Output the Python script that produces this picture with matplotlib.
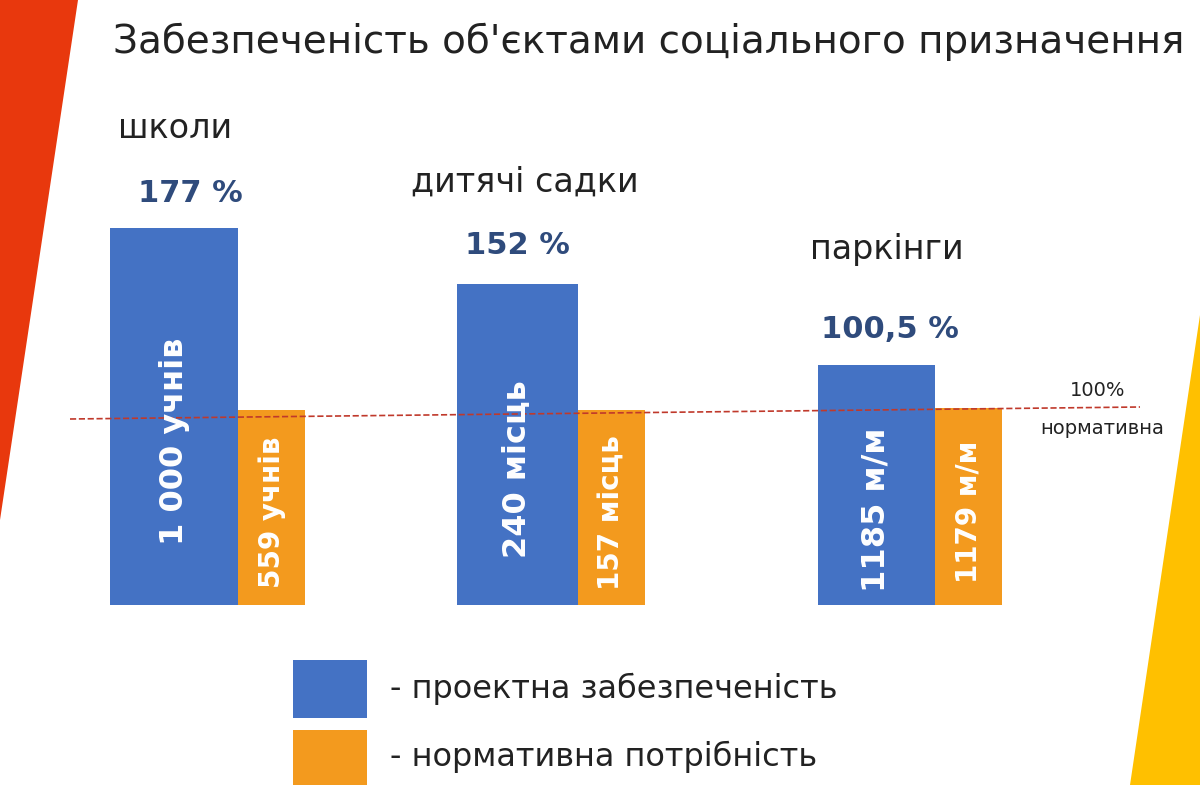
import matplotlib
matplotlib.use("Agg")
import matplotlib.pyplot as plt
from matplotlib.patches import Polygon, Rectangle

categories = ["школи", "дитячі садки", "паркінги"]
percent_labels = ["177 %", "152 %", "100,5 %"]
project_heights = [377, 321, 240]      # bar heights (px)
norm_heights = [195, 195, 197]
project_labels = ["1 000 учнів", "240 місць", "1185 м/м"]
norm_labels = ["559 учнів", "157 місць", "1179 м/м"]
legend_labels = ["- проектна забезпеченість", "- нормативна потрібність"]

BLUE = "#4472C4"
ORANGE = "#F39A1E"
DARK = "#2F4B7C"

fig = plt.figure(figsize=(12, 7.85), dpi=100)
ax = fig.add_axes([0, 0, 1, 1])
ax.set_xlim(0, 1200)
ax.set_ylim(0, 785)
ax.axis("off")

ax.add_patch(Polygon([[0, 785], [78, 785], [0, 265]], color="#E8380D", lw=0))
ax.add_patch(Polygon([[1200, 470], [1200, 0], [1130, 0]], color="#FFC000", lw=0))

base = 180
blue_x = [110, 457, 818]
blue_w = [128, 121, 117]
orange_w = [67, 67, 67]

for i in range(3):
    ax.bar(blue_x[i], project_heights[i], width=blue_w[i], bottom=base, align="edge", color=BLUE)
    ox = blue_x[i] + blue_w[i]
    ax.bar(ox, norm_heights[i], width=orange_w[i], bottom=base, align="edge", color=ORANGE)
    ax.text(blue_x[i] + blue_w[i] / 2, base + project_heights[i] / 2 - 25, project_labels[i],
            rotation=90, color="white", fontsize=23, fontweight="bold", ha="center", va="center")
    ax.text(ox + orange_w[i] / 2, base + norm_heights[i] / 2 - 5, norm_labels[i],
            rotation=90, color="white", fontsize=20, fontweight="bold", ha="center", va="center")

pct_pos = [(190, 592), (517, 540), (890, 456)]
for (x, y), t in zip(pct_pos, percent_labels):
    ax.text(x, y, t, color=DARK, fontsize=22, fontweight="bold", ha="center", va="center")
cat_pos = [(118, 657), (411, 603), (810, 535)]
for (x, y), t in zip(cat_pos, categories):
    ax.text(x, y, t, color="#222222", fontsize=24, ha="left", va="center")

ax.plot([70, 1140], [366, 378], ls="--", color="#C0392B", lw=1.2)
ax.text(1098, 395, "100%", fontsize=14, ha="center", va="center", color="#222222")
ax.text(1102, 356, "нормативна", fontsize=14, ha="center", va="center", color="#222222")

ax.text(113, 743, "Забезпеченість об'єктами соціального призначення", fontsize=28,
        color="#222222", ha="left", va="center")

ax.add_patch(Rectangle((293, 67), 74, 58, color=BLUE, lw=0))
ax.add_patch(Rectangle((293, 0), 74, 55, color=ORANGE, lw=0))
ax.text(390, 96, legend_labels[0], fontsize=23, color="#222222", va="center")
ax.text(390, 28, legend_labels[1], fontsize=23, color="#222222", va="center")

fig.savefig("out.png", dpi=100)
